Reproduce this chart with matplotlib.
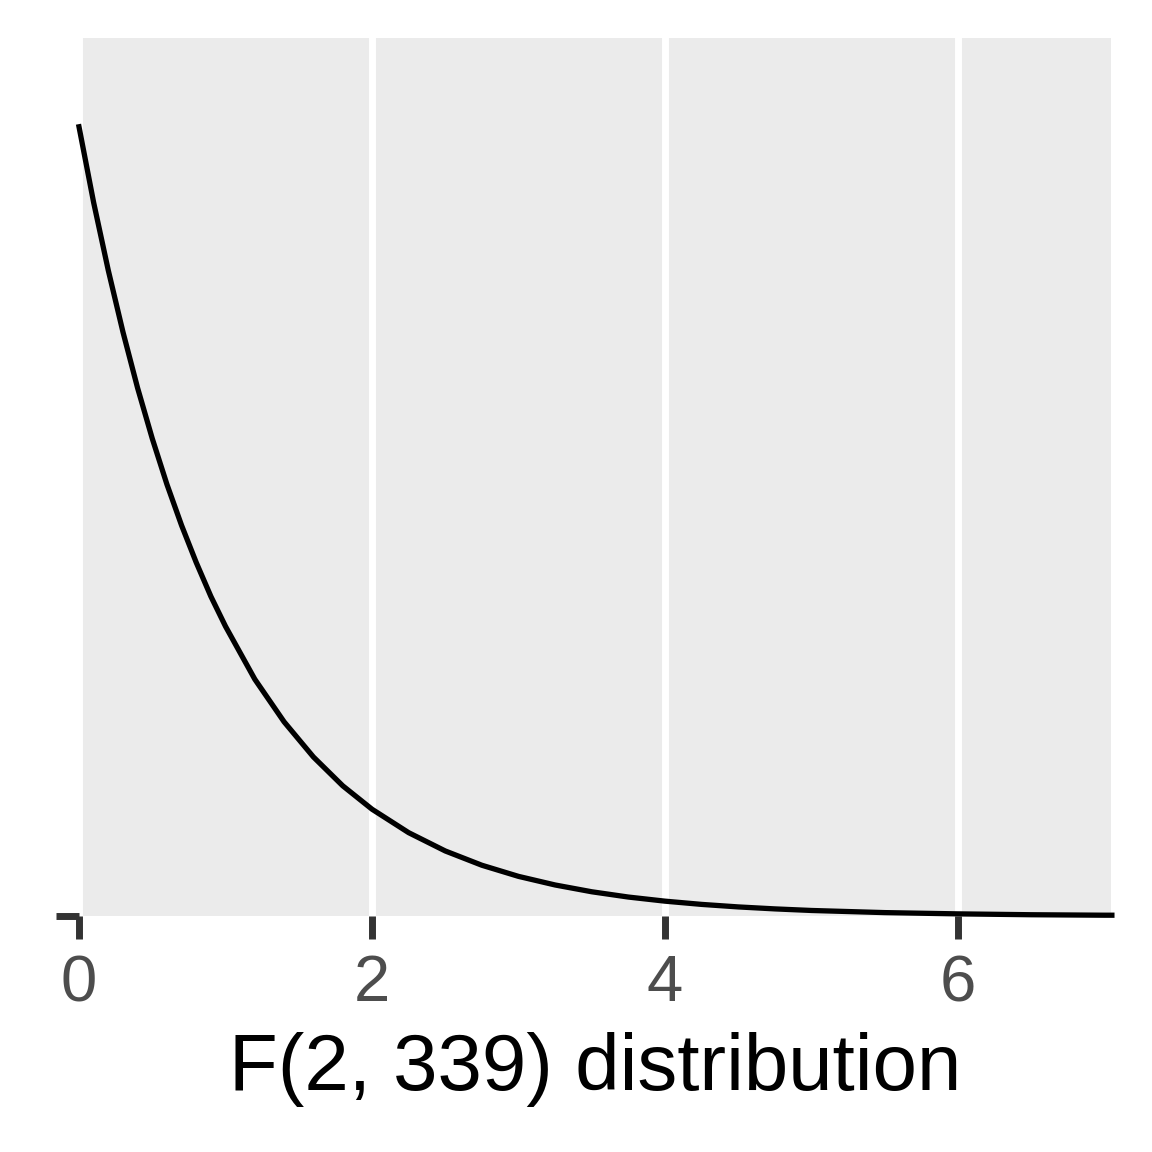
"""Density curve of the F(2, 339) distribution, ggplot-grey style."""

import matplotlib

matplotlib.use("Agg")
import matplotlib.pyplot as plt

PANEL_COLOR = "#EBEBEB"
TICK_COLOR = "#333333"
TICK_LABEL_COLOR = "#4D4D4D"

# values
f_values = [0.0, 0.1, 0.2, 0.3, 0.4, 0.5, 0.6, 0.7, 0.8, 0.9, 1.0,
            1.2, 1.4, 1.6, 1.8, 2.0, 2.25, 2.5, 2.75, 3.0, 3.25, 3.5, 3.75,
            4.0, 4.25, 4.5, 4.75, 5.0, 5.5, 6.0, 6.5, 7.0, 7.05]
density = [1.000, 0.904, 0.818, 0.740, 0.669, 0.605, 0.547, 0.495, 0.448, 0.405, 0.367,
           0.300, 0.246, 0.2015, 0.165, 0.1353, 0.1056, 0.0824, 0.0643, 0.0502, 0.0393,
           0.0307, 0.0240, 0.0188, 0.0147, 0.0115, 0.0090, 0.0070, 0.0043, 0.0027,
           0.0016, 0.0010, 0.0010]
x_ticks = [0, 2, 4, 6]
x_label = "F(2, 339) distribution"

plt.rcParams["font.family"] = ["Liberation Sans", "DejaVu Sans"]

fig = plt.figure(figsize=(11.52, 11.52), dpi=100)
ax = fig.add_axes([79 / 1152, 1 - 916 / 1152, (1111 - 79) / 1152, (916 - 38) / 1152])
ax.set_facecolor(PANEL_COLOR)

ax.plot(f_values, density, color="black", linewidth=3.8, clip_on=False, zorder=3,
        solid_joinstyle="round")

ax.set_xlim(0.024, 7.044)
ax.set_ylim(0.0025, 1.1125)
ax.set_xticks(x_ticks)
ax.set_yticks([0])
ax.set_yticklabels([""])
ax.grid(axis="x", color="white", linewidth=5.0)
ax.set_axisbelow(True)
for spine in ax.spines.values():
    spine.set_visible(False)

ax.tick_params(axis="both", length=16.5, width=5.0, color=TICK_COLOR)
ax.tick_params(axis="x", labelsize=47, labelcolor=TICK_LABEL_COLOR, pad=11)
ax.set_xlabel(x_label, fontsize=57.5, color="black", labelpad=13)

fig.savefig("out.png", dpi=100)
